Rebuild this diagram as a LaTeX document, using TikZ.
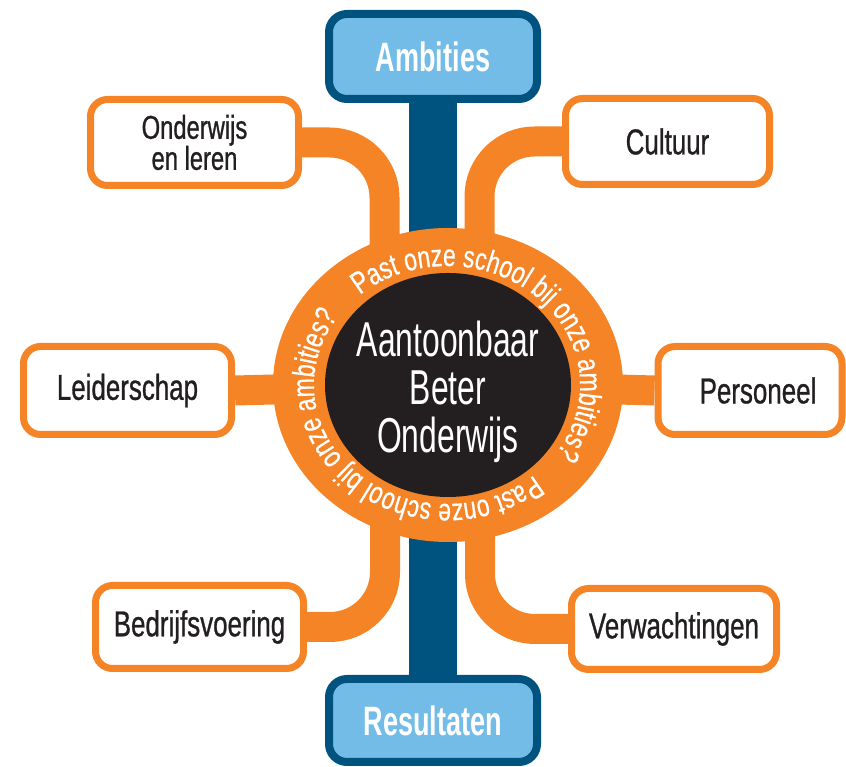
\documentclass[tikz,border=0pt]{standalone}
\usepackage{fontspec}
\usetikzlibrary{decorations.text,shapes.geometric,backgrounds}
\newfontfamily\boxfont[FakeStretch=0.72,FakeBold=0.8]{Liberation Sans}
\newfontfamily\headfont[FakeStretch=0.66]{Liberation Sans}
\newfontfamily\ctrfont[FakeStretch=0.65]{Liberation Sans}
\newfontfamily\ringfont[FakeStretch=0.74,FakeBold=0.6]{Liberation Sans}
\definecolor{orng}{HTML}{F58426}
\definecolor{dblue}{HTML}{00527F}
\definecolor{lblue}{HTML}{74BCE8}
\definecolor{ink}{HTML}{231F20}
\begin{document}
\begin{tikzpicture}[x=1pt,y=1pt,
  obox/.style={draw=orng, line width=7pt, fill=white, rounded corners=17pt,
    inner sep=0pt, align=center, text=ink, font=\boxfont\fontsize{36}{31}\selectfont},
  bbox/.style={draw=dblue, line width=8pt, fill=lblue, rounded corners=18pt,
    inner sep=0pt, text=white, font=\headfont\bfseries\fontsize{41}{41}\selectfont,
    minimum width=208pt},
  conn/.style={draw=orng, line width=30pt, rounded corners=55pt},
  ringtext/.style={decorate, decoration={text along path, text align=center,
    text color=white, text={|\ringfont\fontsize{31}{31}\selectfont|Past onze school bij onze ambities?}}},
]
\useasboundingbox (0,0) rectangle (846,767);

% boxes
\node[bbox, minimum height=85pt] (ambities) at (433,710.5) {Ambities};
\node[bbox, minimum height=83pt] (resultaten) at (433,46.5) {Resultaten};
\node[obox, minimum width=208pt, minimum height=86pt, font=\boxfont\fontsize{33}{31}\selectfont] (onderwijs) at (194.5,624.5) {Onderwijs\\en leren};
\node[obox, minimum width=204pt, minimum height=86pt] (cultuur) at (667.5,625.5) {Cultuur};
\node[obox, minimum width=208pt, minimum height=88pt] (leider) at (127.5,376.5) {Leiderschap};
\node[obox, minimum width=184pt, minimum height=88pt] (personeel) at (750,376.5) {\hspace*{16pt}Personeel};
\node[obox, minimum width=208pt, minimum height=83pt] (bedrijf) at (199.5,140) {Bedrijfsvoering};
\node[obox, minimum width=205pt, minimum height=81pt] (verw) at (674,138) {Verwachtingen};

% ring and core
\node[ellipse, fill=orng, minimum width=350pt, minimum height=314pt, inner sep=0pt] (ring) at (448,382) {};
\node[ellipse, fill=ink, minimum width=246pt, minimum height=224pt, inner sep=0pt] (core) at (448,382) {};
\path[ringtext] (447,382) ++(138:133 and 119) arc[start angle=138, end angle=-42, x radius=133, y radius=119];
\path[ringtext] (447,382) ++(-42:133 and 119) arc[start angle=-42, end angle=-222, x radius=133, y radius=119];
\node[align=center, text=white, inner sep=0pt, font=\ctrfont\fontsize{49}{48}\selectfont] (ctrtext) at (448,375) {Aantoonbaar\\Beter\\Onderwijs};

% connection points inside the ring
\coordinate (ctl) at (384.5,470);
\coordinate (ctr) at (479.5,470);
\coordinate (cbl) at (385,300);
\coordinate (cbr) at (480,300);

\begin{pgfonlayer}{background}
  \draw[conn] (onderwijs.east) -| (ctl);
  \draw[conn] (cultuur.west) -| (ctr);
  \draw[conn] (bedrijf.east) -| (cbl);
  \draw[conn] (verw.west) -| (cbr);
  \draw[conn] (leider.east) -- (ring.center);
  \draw[conn] (ring.center) -- (personeel.west);
  \draw[white, line width=62pt] (ambities.center) -- (resultaten.center);
  \draw[dblue, line width=48pt] (ambities.center) -- (resultaten.center);
\end{pgfonlayer}
\end{tikzpicture}
\end{document}
